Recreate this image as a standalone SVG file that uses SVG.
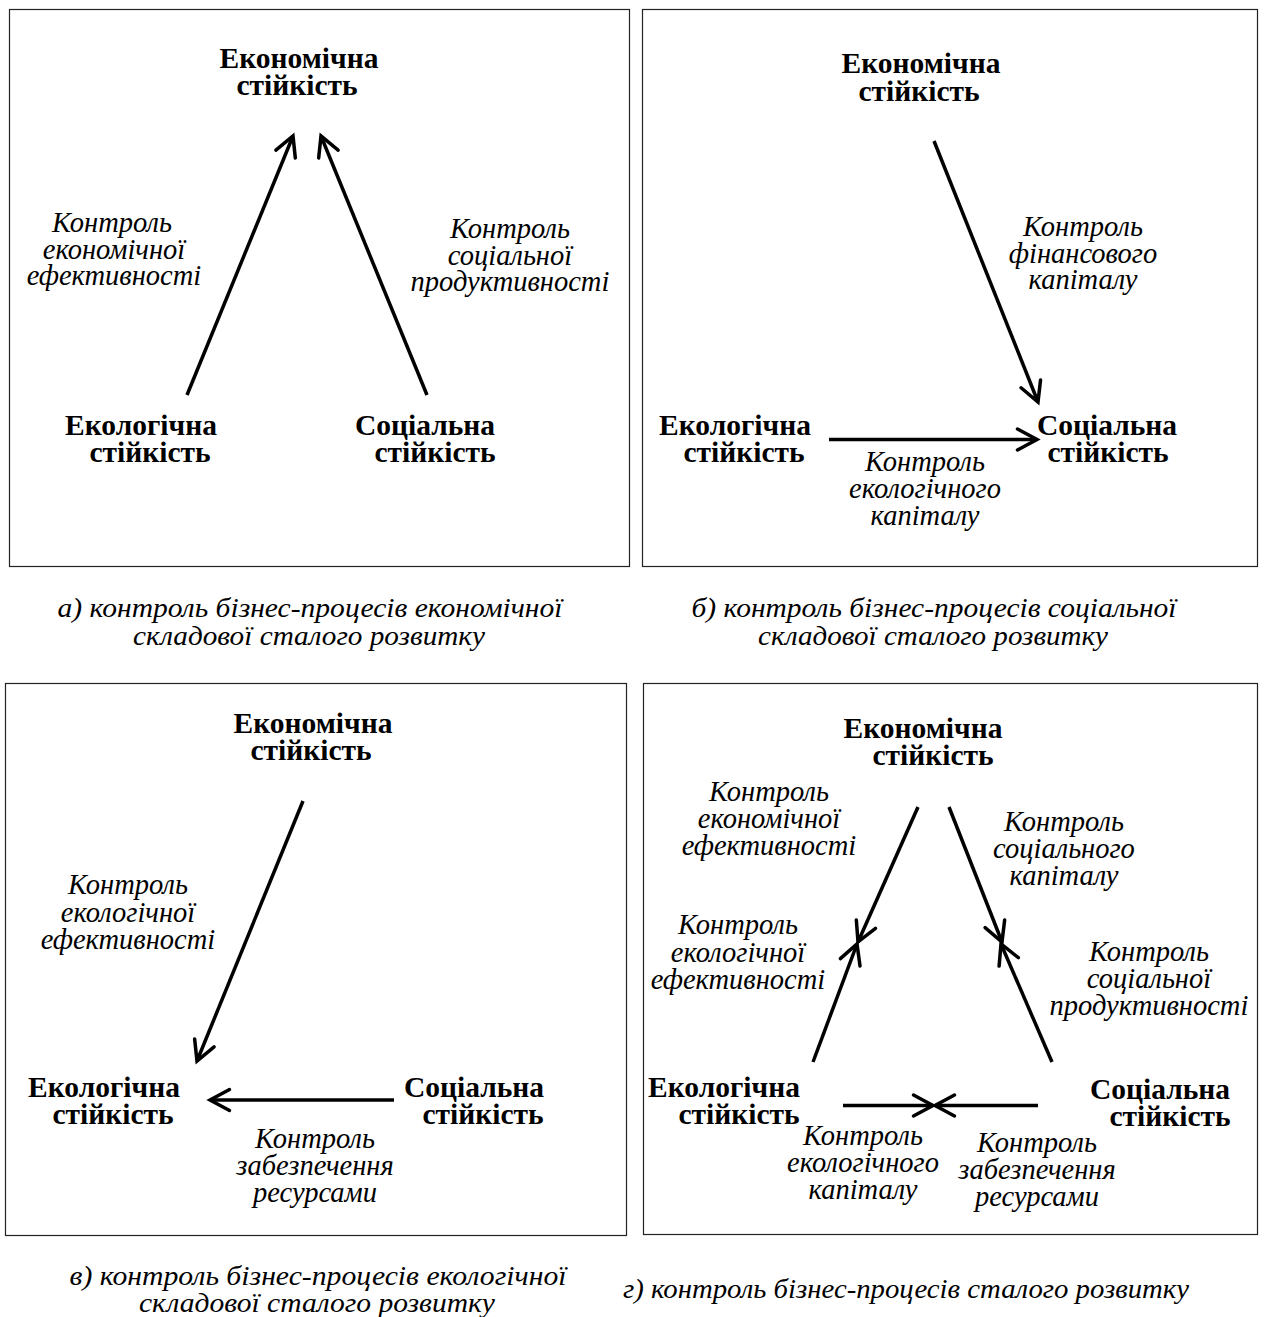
<svg xmlns="http://www.w3.org/2000/svg" width="1265" height="1317" viewBox="0 0 1265 1317">
<style>
.box{fill:none;stroke:#222;stroke-width:1.2}
.n{font-family:"Liberation Serif","Times New Roman",serif;font-weight:bold;font-size:29.5px;text-anchor:middle;fill:#000}
.l{font-family:"Liberation Serif","Times New Roman",serif;font-style:italic;font-size:28.5px;text-anchor:middle;fill:#000}
.c{font-family:"Liberation Serif","Times New Roman",serif;font-style:italic;font-size:28px;text-anchor:middle;fill:#000}
.a{fill:none;stroke:#000;stroke-width:3.5;marker-end:url(#ah)}
</style>
<defs>
<marker id="ah" markerUnits="userSpaceOnUse" markerWidth="40" markerHeight="40" viewBox="-25 -20 40 40" refX="0" refY="0" orient="auto" overflow="visible">
<path d="M-19.5,-10.5 L0,0 L-19.5,10.5" fill="none" stroke="#000" stroke-width="3.5" stroke-linecap="round" stroke-linejoin="miter"/>
</marker>
</defs>
<rect class="box" x="9.5" y="9.5" width="620" height="557"/>
<rect class="box" x="642.5" y="9.5" width="615" height="557"/>
<rect class="box" x="5.5" y="683.5" width="621" height="552"/>
<rect class="box" x="643.5" y="683.5" width="614" height="551"/>

<g id="a-eco"><text class="n"><tspan x="299" y="68">Економічна</tspan><tspan x="297" y="95">стійкість</tspan></text></g>
<g id="a-ecol"><text class="n"><tspan x="141" y="435">Екологічна</tspan><tspan x="150" y="462">стійкість</tspan></text></g>
<g id="a-soc"><text class="n"><tspan x="425" y="435">Соціальна</tspan><tspan x="435" y="462">стійкість</tspan></text></g>
<g id="a-lab1"><text class="l"><tspan x="112" y="232">Контроль</tspan><tspan x="114" y="259">економічної</tspan><tspan x="114" y="285">ефективності</tspan></text></g>
<g id="a-lab2"><text class="l"><tspan x="510" y="238">Контроль</tspan><tspan x="510" y="265">соціальної</tspan><tspan x="510" y="291">продуктивності</tspan></text></g>

<g id="b-eco"><text class="n"><tspan x="921" y="73">Економічна</tspan><tspan x="919" y="101">стійкість</tspan></text></g>
<g id="b-ecol"><text class="n"><tspan x="735" y="435">Екологічна</tspan><tspan x="744" y="462">стійкість</tspan></text></g>
<g id="b-soc"><text class="n"><tspan x="1107" y="435">Соціальна</tspan><tspan x="1108" y="462">стійкість</tspan></text></g>
<g id="b-lab1"><text class="l"><tspan x="1083" y="236">Контроль</tspan><tspan x="1083" y="263">фінансового</tspan><tspan x="1083" y="289">капіталу</tspan></text></g>
<g id="b-lab2"><text class="l"><tspan x="925" y="471">Контроль</tspan><tspan x="925" y="498">екологічного</tspan><tspan x="925" y="525">капіталу</tspan></text></g>

<g id="c-eco"><text class="n"><tspan x="313" y="733">Економічна</tspan><tspan x="311" y="760">стійкість</tspan></text></g>
<g id="c-ecol"><text class="n"><tspan x="104" y="1097">Екологічна</tspan><tspan x="113" y="1124">стійкість</tspan></text></g>
<g id="c-soc"><text class="n"><tspan x="474" y="1097">Соціальна</tspan><tspan x="483" y="1124">стійкість</tspan></text></g>
<g id="c-lab1"><text class="l"><tspan x="128" y="894">Контроль</tspan><tspan x="128" y="922">екологічної</tspan><tspan x="128" y="949">ефективності</tspan></text></g>
<g id="c-lab2"><text class="l"><tspan x="315" y="1148">Контроль</tspan><tspan x="315" y="1175">забезпечення</tspan><tspan x="315" y="1202">ресурсами</tspan></text></g>

<g id="d-eco"><text class="n"><tspan x="923" y="738">Економічна</tspan><tspan x="933" y="765">стійкість</tspan></text></g>
<g id="d-ecol"><text class="n"><tspan x="724" y="1097">Екологічна</tspan><tspan x="739" y="1124">стійкість</tspan></text></g>
<g id="d-soc"><text class="n"><tspan x="1160" y="1099">Соціальна</tspan><tspan x="1170" y="1126">стійкість</tspan></text></g>
<g id="d-lab1"><text class="l"><tspan x="769" y="801">Контроль</tspan><tspan x="769" y="828">економічної</tspan><tspan x="769" y="855">ефективності</tspan></text></g>
<g id="d-lab2"><text class="l"><tspan x="1064" y="831">Контроль</tspan><tspan x="1064" y="858">соціального</tspan><tspan x="1064" y="885">капіталу</tspan></text></g>
<g id="d-lab3"><text class="l"><tspan x="738" y="934">Контроль</tspan><tspan x="738" y="962">екологічної</tspan><tspan x="738" y="989">ефективності</tspan></text></g>
<g id="d-lab4"><text class="l"><tspan x="1149" y="961">Контроль</tspan><tspan x="1149" y="988">соціальної</tspan><tspan x="1149" y="1015">продуктивності</tspan></text></g>
<g id="d-lab5"><text class="l"><tspan x="863" y="1145">Контроль</tspan><tspan x="863" y="1172">екологічного</tspan><tspan x="863" y="1199">капіталу</tspan></text></g>
<g id="d-lab6"><text class="l"><tspan x="1037" y="1152">Контроль</tspan><tspan x="1037" y="1179">забезпечення</tspan><tspan x="1037" y="1206">ресурсами</tspan></text></g>

<g id="connectors">
<line class="a" x1="187" y1="395" x2="293" y2="136"/>
<line class="a" x1="427" y1="395" x2="321" y2="136"/>
<line class="a" x1="934" y1="141" x2="1038" y2="402"/>
<line class="a" x1="829" y1="439.5" x2="1037" y2="439.5"/>
<line class="a" x1="303" y1="801" x2="197" y2="1061"/>
<line class="a" x1="394" y1="1100" x2="210" y2="1100"/>
<line class="a" x1="918" y1="807" x2="858" y2="942"/>
<line class="a" x1="813" y1="1062" x2="857" y2="944"/>
<line class="a" x1="949" y1="807" x2="1002" y2="942"/>
<line class="a" x1="1052" y1="1062" x2="1001" y2="944"/>
<line class="a" x1="843" y1="1105.5" x2="933" y2="1105.5"/>
<line class="a" x1="1038" y1="1105.5" x2="935" y2="1105.5"/>
</g>

<g id="captions">
<text class="c" x="310" y="617" textLength="505" lengthAdjust="spacingAndGlyphs">а) контроль бізнес-процесів економічної</text>
<text class="c" x="309" y="645" textLength="352" lengthAdjust="spacingAndGlyphs">складової сталого розвитку</text>
<text class="c" x="934" y="617" textLength="485" lengthAdjust="spacingAndGlyphs">б) контроль бізнес-процесів соціальної</text>
<text class="c" x="933" y="645" textLength="350" lengthAdjust="spacingAndGlyphs">складової сталого розвитку</text>
<text class="c" x="318" y="1285" textLength="497" lengthAdjust="spacingAndGlyphs">в) контроль бізнес-процесів екологічної</text>
<text class="c" x="317" y="1312" textLength="356" lengthAdjust="spacingAndGlyphs">складової сталого розвитку</text>
<text class="c" x="906" y="1298" textLength="566" lengthAdjust="spacingAndGlyphs">г) контроль бізнес-процесів сталого розвитку</text>
</g>
</svg>
